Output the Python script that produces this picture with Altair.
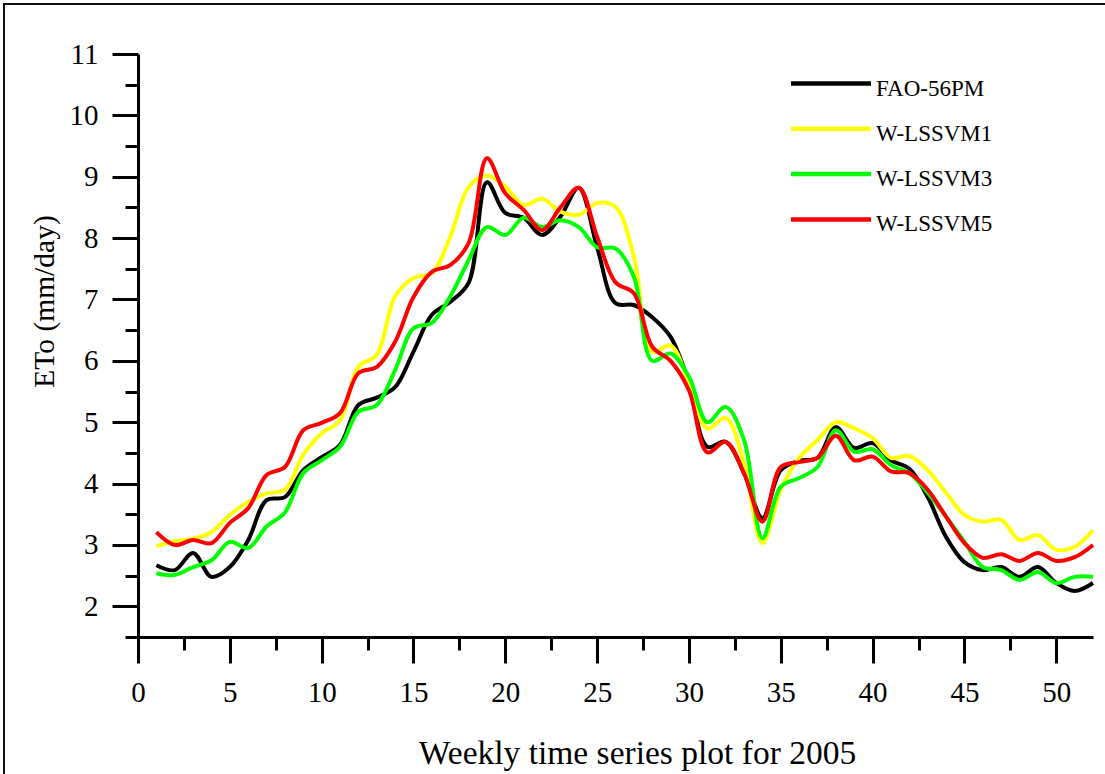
import altair as alt
import pandas as pd

weeks = list(range(1, 53))
fao = [2.67, 2.59, 2.87, 2.48, 2.64, 3.08, 3.73, 3.78, 4.22, 4.43,
       4.63, 5.28, 5.40, 5.57, 6.15, 6.75, 6.96, 7.27, 8.91, 8.41,
       8.33, 8.05, 8.35, 8.82, 7.85, 6.94, 6.91, 6.71, 6.39, 5.64,
       4.60, 4.68, 4.17, 3.44, 4.22, 4.37, 4.42, 4.92, 4.58, 4.66,
       4.38, 4.24, 3.78, 3.13, 2.72, 2.59, 2.64, 2.48, 2.64, 2.38,
       2.25, 2.38]
lssvm1 = [2.98, 3.06, 3.10, 3.21, 3.49, 3.70, 3.84, 3.90, 4.47, 4.82,
          5.03, 5.90, 6.10, 7.05, 7.35, 7.43, 8.02, 8.83, 9.02, 8.84,
          8.54, 8.64, 8.43, 8.38, 8.57, 8.51, 7.70, 6.15, 6.25, 5.64,
          4.90, 5.07, 4.33, 3.03, 3.90, 4.42, 4.71, 5.00, 4.90, 4.74,
          4.42, 4.45, 4.22, 3.85, 3.49, 3.38, 3.41, 3.08, 3.16, 2.92,
          2.97, 3.24]
lssvm3 = [2.54, 2.51, 2.64, 2.75, 3.05, 2.95, 3.30, 3.53, 4.17, 4.38,
          4.60, 5.17, 5.28, 5.85, 6.53, 6.62, 7.05, 7.64, 8.18, 8.05,
          8.33, 8.18, 8.29, 8.18, 7.85, 7.83, 7.37, 6.00, 6.12, 5.74,
          5.00, 5.25, 4.71, 3.11, 3.95, 4.09, 4.27, 4.87, 4.52, 4.56,
          4.30, 4.17, 3.85, 3.46, 3.05, 2.64, 2.59, 2.43, 2.56, 2.38,
          2.48, 2.48]
lssvm5 = [3.21, 3.00, 3.08, 3.03, 3.36, 3.60, 4.14, 4.27, 4.87, 4.99,
          5.15, 5.80, 5.90, 6.31, 7.04, 7.45, 7.56, 7.92, 9.30, 8.73,
          8.46, 8.13, 8.50, 8.82, 8.02, 7.28, 7.10, 6.23, 6.00, 5.52,
          4.51, 4.68, 4.17, 3.38, 4.27, 4.35, 4.42, 4.78, 4.38, 4.44,
          4.20, 4.17, 3.90, 3.46, 3.03, 2.79, 2.85, 2.74, 2.87, 2.74,
          2.80, 3.00]

series_names = ["FAO-56PM", "W-LSSVM1", "W-LSSVM3", "W-LSSVM5"]
series_colors = ["#000000", "#ffff00", "#00ff00", "#ff0000"]
series_values = [fao, lssvm1, lssvm3, lssvm5]

x_major_ticks = [0, 5, 10, 15, 20, 25, 30, 35, 40, 45, 50]
x_minor_ticks = [2.5, 7.5, 12.5, 17.5, 22.5, 27.5, 32.5, 37.5, 42.5, 47.5]
y_major_ticks = [2, 3, 4, 5, 6, 7, 8, 9, 10, 11]
y_minor_ticks = [1.5, 2.5, 3.5, 4.5, 5.5, 6.5, 7.5, 8.5, 9.5, 10.5]

rows = []
for name, vals in zip(series_names, series_values):
    for w, v in zip(weeks, vals):
        rows.append({"week": w, "eto": v, "series": name})
df = pd.DataFrame(rows)

FONT = "Liberation Serif"
W, H = 955, 583

x_scale = alt.Scale(domain=[0, 52], nice=False, zero=False)
y_scale = alt.Scale(domain=[1.5, 11], nice=False, zero=False)

x_major = alt.Axis(
    orient="bottom", values=x_major_ticks, grid=False,
    tickSize=26, tickWidth=3, tickColor="black",
    domainWidth=3, domainColor="black",
    labelFont=FONT, labelFontSize=29, labelColor="black", labelPadding=15,
    labelFlush=False, labelOverlap=False,
    title="Weekly time series plot for 2005", titleFont=FONT, titleFontSize=33.5,
    titleFontWeight="normal", titleColor="black",
    titleX=499, titleY=126, titleAlign="center", titleBaseline="alphabetic",
)
y_major = alt.Axis(
    orient="left", values=y_major_ticks, grid=False,
    tickSize=26, tickWidth=3, tickColor="black",
    domainWidth=3, domainColor="black",
    labelFont=FONT, labelFontSize=29, labelColor="black", labelPadding=14,
    labelFlush=False, labelOverlap=False,
    title="ETo (mm/day)", titleFont=FONT, titleFontSize=29.5,
    titleFontWeight="normal", titleColor="black",
    titleX=-94, titleY=247, titleAngle=270, titleAlign="center", titleBaseline="middle",
)
x_minor = alt.Axis(
    orient="bottom", values=x_minor_ticks, grid=False, domain=False, labels=False,
    tickSize=13, tickWidth=3, tickColor="black", title=None,
)
y_minor = alt.Axis(
    orient="left", values=y_minor_ticks, grid=False, domain=False, labels=False,
    tickSize=13, tickWidth=3, tickColor="black", title=None,
)

legend = alt.Legend(
    orient="none", legendX=680.5, legendY=22, title=None, padding=0,
    symbolType="M-4,-0.5H4", symbolSize=400, symbolStrokeWidth=4.5,
    labelFont=FONT, labelFontSize=23, labelColor="black",
    labelOffset=32.5, rowPadding=18.3,
)

lines = alt.Chart(df).mark_line(strokeWidth=4, interpolate="catmull-rom").encode(
    x=alt.X("week:Q", scale=x_scale, axis=x_major),
    y=alt.Y("eto:Q", scale=y_scale, axis=y_major),
    color=alt.Color("series:N", scale=alt.Scale(domain=series_names, range=series_colors),
                    sort=series_names, legend=legend),
)

minor = alt.Chart(df).mark_line(strokeOpacity=0).encode(
    x=alt.X("week:Q", scale=x_scale, axis=x_minor),
    y=alt.Y("eto:Q", scale=y_scale, axis=y_minor),
    detail="series:N",
)

frame = alt.Chart(pd.DataFrame({"f": [0]})).mark_rect(
    filled=False, stroke="#111111", strokeWidth=2
).encode(
    x=alt.value(-134), x2=alt.value(1300), y=alt.value(-50), y2=alt.value(900)
)

chart = alt.layer(lines, minor, frame).resolve_axis(
    x="independent", y="independent"
).properties(
    width=W, height=H,
    padding={"left": 138, "top": 54, "right": 12, "bottom": 137},
    autosize=alt.AutoSizeParams(type="none"),
    background="white",
).configure_view(stroke=None)

chart.save("out.html", embed_options={"renderer": "svg", "actions": False})
